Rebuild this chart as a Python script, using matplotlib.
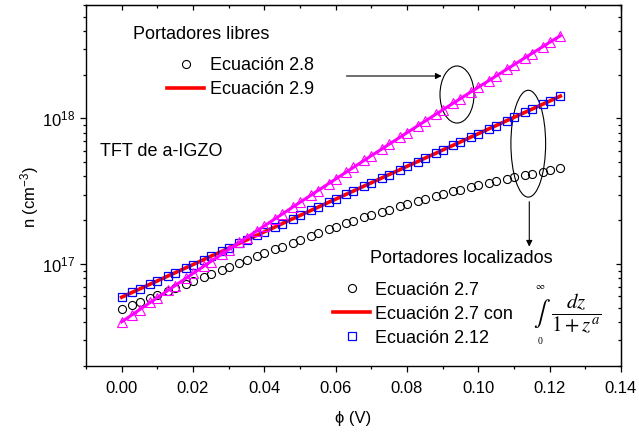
import matplotlib
matplotlib.use("Agg")
import matplotlib.pyplot as plt
import numpy as np
from matplotlib.lines import Line2D
from matplotlib.patches import Ellipse
from matplotlib.ticker import MultipleLocator, LogLocator, NullFormatter

plt.rcParams["font.family"] = ["Liberation Sans", "DejaVu Sans"]
plt.rcParams["mathtext.fontset"] = "custom"
plt.rcParams["mathtext.rm"] = "Liberation Sans"
plt.rcParams["mathtext.it"] = "Liberation Sans:italic"
plt.rcParams["mathtext.bf"] = "Liberation Sans:bold"

# surface potential (V)
phi = [0.000, 0.003, 0.005, 0.008, 0.010, 0.013, 0.015, 0.018, 0.020, 0.023,
       0.025, 0.028, 0.030, 0.033, 0.035, 0.038, 0.040, 0.043, 0.045, 0.048,
       0.050, 0.053, 0.055, 0.058, 0.060, 0.063, 0.065, 0.068, 0.070, 0.073,
       0.075, 0.078, 0.080, 0.083, 0.085, 0.088, 0.090, 0.093, 0.095, 0.098,
       0.100, 0.103, 0.105, 0.108, 0.110, 0.113, 0.115, 0.118, 0.120, 0.123]

# log10 of carrier density (cm^-3)
log_n_free = [16.604, 16.654, 16.687, 16.737, 16.770, 16.820, 16.853, 16.903, 16.936, 16.985,
              17.018, 17.067, 17.100, 17.149, 17.181, 17.230, 17.262, 17.311, 17.343, 17.392,
              17.424, 17.472, 17.504, 17.552, 17.584, 17.632, 17.664, 17.712, 17.744, 17.791,
              17.823, 17.870, 17.902, 17.949, 17.980, 18.027, 18.058, 18.105, 18.136, 18.183,
              18.214, 18.260, 18.291, 18.338, 18.368, 18.415, 18.445, 18.491, 18.522, 18.567]

log_n_loc_212 = [16.773, 16.807, 16.829, 16.863, 16.885, 16.919, 16.941, 16.975, 16.997, 17.031,
                 17.054, 17.087, 17.110, 17.143, 17.166, 17.199, 17.222, 17.255, 17.278, 17.312,
                 17.334, 17.368, 17.390, 17.424, 17.446, 17.480, 17.502, 17.536, 17.558, 17.592,
                 17.615, 17.648, 17.671, 17.704, 17.727, 17.760, 17.783, 17.816, 17.839, 17.873,
                 17.895, 17.929, 17.951, 17.985, 18.007, 18.041, 18.063, 18.097, 18.119, 18.153]

log_n_loc_27 = [16.689, 16.718, 16.737, 16.766, 16.785, 16.814, 16.833, 16.862, 16.881, 16.910,
                16.929, 16.958, 16.977, 17.006, 17.025, 17.054, 17.073, 17.101, 17.120, 17.148,
                17.167, 17.195, 17.213, 17.239, 17.256, 17.280, 17.296, 17.320, 17.335, 17.358,
                17.373, 17.396, 17.411, 17.433, 17.447, 17.468, 17.481, 17.500, 17.512, 17.530,
                17.542, 17.559, 17.570, 17.586, 17.596, 17.611, 17.621, 17.635, 17.644, 17.657]

n_free = 10 ** np.array(log_n_free)
n_loc_212 = 10 ** np.array(log_n_loc_212)
n_loc_27 = 10 ** np.array(log_n_loc_27)

fig = plt.figure(figsize=(6.39, 4.34), dpi=100)
ax = fig.add_axes([0.1346, 0.1567, 0.8372, 0.8318])

ax.plot(phi, n_loc_27, "o", mfc="none", mec="black", ms=5.8, mew=0.8)
ax.plot(phi, n_loc_212, "-", color="red", lw=2.6)
ax.plot(phi, n_loc_212, "s", mfc="none", mec="blue", ms=6, mew=0.9)
ax.plot(phi, n_free, "-", color="magenta", lw=2.2,
        marker="^", mfc="none", mec="magenta", ms=7, mew=0.8)

ax.set_yscale("log")
ax.set_xlim(-0.01, 0.14)
ax.set_ylim(2e16, 6e18)

ax.xaxis.set_major_locator(MultipleLocator(0.02))
ax.xaxis.set_minor_locator(MultipleLocator(0.01))
ax.xaxis.set_major_formatter(matplotlib.ticker.FormatStrFormatter("%.2f"))
ax.yaxis.set_major_locator(LogLocator(base=10))
ax.yaxis.set_minor_locator(LogLocator(base=10, subs=np.arange(2, 10)))
ax.yaxis.set_minor_formatter(NullFormatter())

ax.tick_params(which="major", direction="out", length=4.5, width=0.9, labelsize=12)
ax.tick_params(which="minor", direction="out", length=2.5, width=0.9)
ax.tick_params(axis="x", which="major", pad=6)
for sp in ax.spines.values():
    sp.set_linewidth(1.0)

# mirrored ticks pointing inward on top / right
secx = ax.secondary_xaxis("top")
secx.xaxis.set_major_locator(MultipleLocator(0.02))
secx.xaxis.set_minor_locator(MultipleLocator(0.01))
secx.tick_params(which="major", direction="in", length=3.5, width=0.9, labeltop=False)
secx.tick_params(which="minor", direction="in", length=2, width=0.9)
secy = ax.secondary_yaxis("right")
secy.yaxis.set_major_locator(LogLocator(base=10))
secy.yaxis.set_minor_locator(LogLocator(base=10, subs=np.arange(2, 10)))
secy.yaxis.set_major_formatter(NullFormatter())
secy.yaxis.set_minor_formatter(NullFormatter())
secy.tick_params(which="major", direction="in", length=3.5, width=0.9)
secy.tick_params(which="minor", direction="in", length=2, width=0.9)

ax.set_xlabel("ϕ (V)", fontsize=12)
ax.set_ylabel("n (cm$^{-3}$)", fontsize=12)
ax.xaxis.set_label_coords(0.5, -0.125)
ax.yaxis.set_label_coords(-0.085, 0.468)

# free carriers legend
ax.text(0.0879, 0.917, "Portadores libres", fontsize=13, va="center", transform=ax.transAxes)
h_free = [Line2D([], [], ls="none", marker="o", mfc="none", mec="black", ms=5.8, mew=0.8),
          Line2D([], [], color="red", lw=2.6)]
leg1 = ax.legend(h_free, ["Ecuación 2.8", "Ecuación 2.9"], loc="upper left",
                 bbox_to_anchor=(0.1514, 0.855), frameon=False, fontsize=13,
                 borderpad=0, borderaxespad=0, handlelength=2.05,
                 handletextpad=0.33, labelspacing=0.365)
ax.add_artist(leg1)

ax.text(0.0262, 0.5928, "TFT de a-IGZO", fontsize=13, va="center", transform=ax.transAxes)

# localized carriers legend
ax.text(0.5308, 0.2964, "Portadores localizados", fontsize=13, va="center",
        transform=ax.transAxes)
h_loc = [Line2D([], [], ls="none", marker="o", mfc="none", mec="black", ms=5.8, mew=0.8),
         Line2D([], [], color="red", lw=2.6),
         Line2D([], [], ls="none", marker="s", mfc="none", mec="blue", ms=5.5, mew=0.9)]
ax.legend(h_loc, ["Ecuación 2.7", "Ecuación 2.7 con", "Ecuación 2.12"], loc="upper left",
          bbox_to_anchor=(0.4617, 0.234), frameon=False, fontsize=13,
          borderpad=0, borderaxespad=0, handlelength=2.05,
          handletextpad=0.28, labelspacing=0.39)

# integral expression
ax.text(0.853, 0.146, r"$\int$", fontsize=18, math_fontfamily="stix",
        ha="center", va="center", transform=ax.transAxes)
ax.text(0.848, 0.222, r"$\infty$", fontsize=7, math_fontfamily="stix",
        ha="center", va="center", transform=ax.transAxes)
ax.text(0.848, 0.068, "0", fontsize=7, family="Liberation Serif",
        ha="center", va="center", transform=ax.transAxes)
ax.text(0.916, 0.146, r"$\dfrac{dz}{1+z^{a}}$", fontsize=15, math_fontfamily="stix",
        ha="center", va="center", transform=ax.transAxes)

# ellipses and arrows
ax.add_patch(Ellipse((0.6935, 0.752), 0.0636, 0.158, transform=ax.transAxes,
                     fill=False, ec="black", lw=0.8))
ax.add_patch(Ellipse((0.8267, 0.6158), 0.0649, 0.296, transform=ax.transAxes,
                     fill=False, ec="black", lw=0.8))
arrow = dict(arrowstyle="-|>", color="black", lw=0.8, mutation_scale=9,
             shrinkA=0, shrinkB=0)
ax.annotate("", xy=(0.6649, 0.8033), xytext=(0.4869, 0.8033),
            xycoords="axes fraction", textcoords="axes fraction", arrowprops=arrow)
ax.annotate("", xy=(0.8286, 0.3305), xytext=(0.8286, 0.4551),
            xycoords="axes fraction", textcoords="axes fraction", arrowprops=arrow)

fig.savefig("out.png", dpi=100)
